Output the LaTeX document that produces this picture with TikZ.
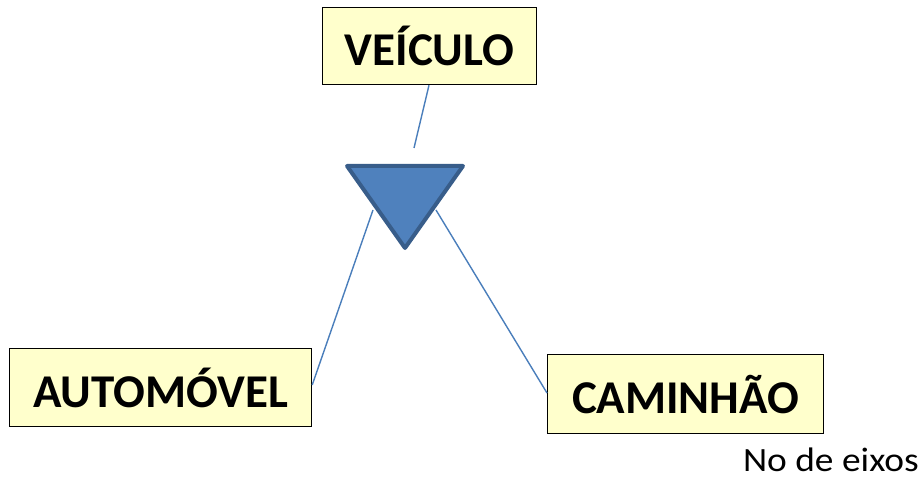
\documentclass[tikz,border=0pt]{standalone}
\usepackage{fontspec}
\setmainfont{Carlito}
\definecolor{boxfill}{HTML}{FFFFCC}
\definecolor{linkblue}{HTML}{4A7EBB}
\definecolor{trifill}{HTML}{4F81BD}
\definecolor{triedge}{HTML}{385D8A}
\begin{document}
\begin{tikzpicture}[x=1pt,y=-1pt,
  entity/.style={draw=black,line width=1.2pt,fill=boxfill,inner sep=0pt,
    font=\fontsize{47}{52}\selectfont\bfseries,anchor=north west},
  link/.style={draw=linkblue,line width=1.4pt}]
\useasboundingbox (0,0) rectangle (923,481);
\node[entity,minimum width=214,minimum height=77] (veic) at (322,7) {VEÍCULO};
\node[entity,minimum width=302,minimum height=78] (auto) at (9,348) {AUTOMÓVEL};
\node[entity,minimum width=276,minimum height=79] (cam) at (547,354) {CAMINHÃO};
\node[font=\fontsize{34}{36}\selectfont,anchor=base east,inner sep=0pt] (eixos) at (919,471) {\scalebox{1.1}[1]{No de eixos}};
\coordinate (tl) at (347,166);
\coordinate (tr) at (463,166);
\coordinate (tb) at (405,248);
\coordinate (vtop) at (414,148);
\coordinate (lsrc) at (373,210);
\coordinate (rsrc) at (436,210);
\draw[link] (veic.south -| 429,0) -- (vtop);
\draw[link] (lsrc) -- (auto.east |- 0,385);
\draw[link] (rsrc) -- (cam.west |- 0,393);
\draw[fill=trifill,draw=triedge,line width=4pt,line join=round] (tl) -- (tr) -- (tb) -- cycle;
\end{tikzpicture}
\end{document}
